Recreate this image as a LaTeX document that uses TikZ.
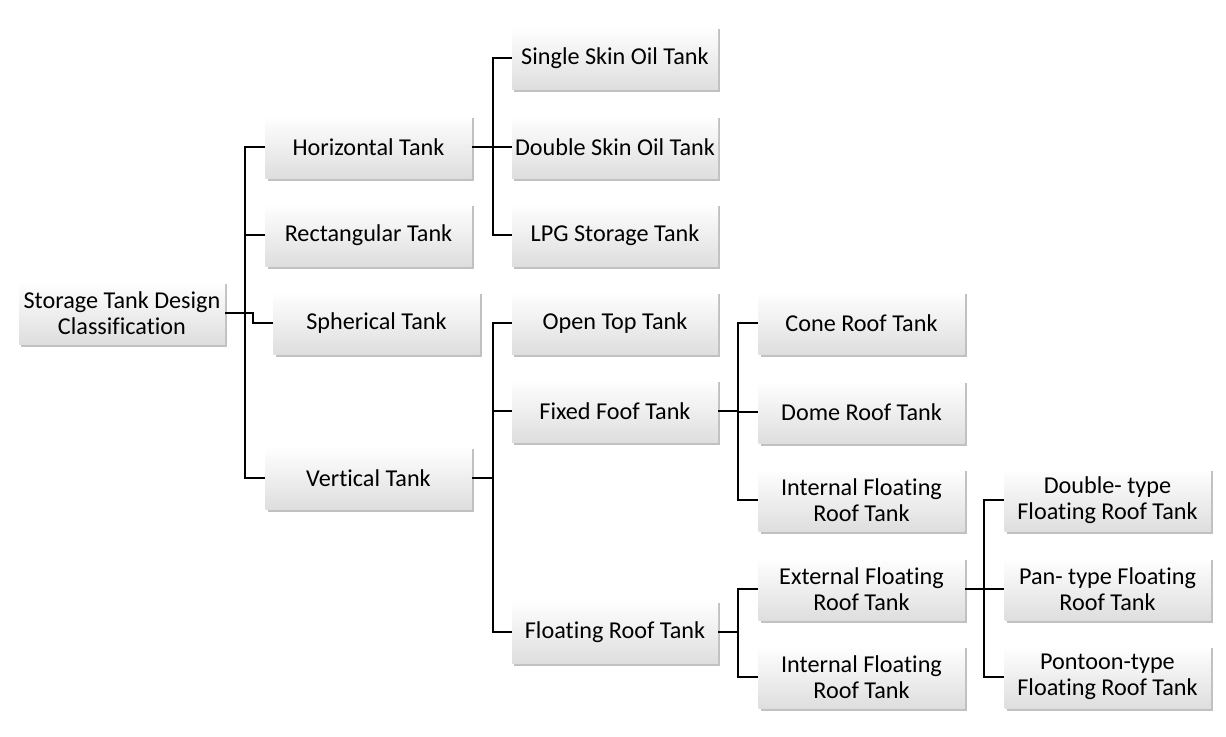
\documentclass[tikz,border=0pt]{standalone}
\usepackage{fontspec}
\setmainfont{Carlito}[Ligatures={NoCommon}]
\usepackage{tikz}
\usetikzlibrary{
	positioning,
	shadows,
	calc
}
\tikzset{
  % line
	cstline/.style        ={line width=1.2pt, line join=miter},
  % node
	cstnode/.style        ={rectangle, minimum width=103pt, minimum height=31.5pt, inner sep=0pt,
	                        align=center, top color=white, bottom color=black!13,
	                        font=\fontsize{12.1}{12.8}\selectfont,
	                        drop shadow={shadow xshift=1.2pt, shadow yshift=-1.2pt, opacity=.35, fill=black!70}}
}

\begin{document}
\begin{tikzpicture}[x=0.5pt,y=-0.5pt]
	\useasboundingbox (0,0) rectangle (1226,736);
	% root and first level
	\node[cstnode] (root) at (122,313) {Storage Tank Design\\Classification};
	\node[cstnode] (hor)  at (368.5,147) {Horizontal Tank};
	\node[cstnode] (rect) at (368.5,235) {Rectangular Tank};
	\node[cstnode] (sph)  at (376.5,323) {Spherical Tank};
	\node[cstnode] (vert) at (368.5,478) {Vertical Tank};
	% second level
	\node[cstnode] (sst) at (615,58)  {Single Skin Oil Tank};
	\node[cstnode] (dst) at (615,147) {Double Skin Oil Tank};
	\node[cstnode] (lpg) at (615,235) {LPG Storage Tank};
	\node[cstnode] (opt) at (615,323) {Open Top Tank};
	\node[cstnode] (fix) at (615,411) {Fixed Foof Tank};
	\node[cstnode] (flt) at (615,632) {Floating Roof Tank};
	% third level
	\node[cstnode] (cone) at (861.5,323) {Cone Roof Tank};
	\node[cstnode] (dome) at (861.5,412) {Dome Roof Tank};
	\node[cstnode] (ifra) at (861.5,500) {Internal Floating\\Roof Tank};
	\node[cstnode] (efr)  at (861.5,589) {External Floating\\Roof Tank};
	\node[cstnode] (ifrb) at (861.5,677) {Internal Floating\\Roof Tank};
	% fourth level
	\node[cstnode] (dbl) at (1107.5,500) {Double- type\\Floating Roof Tank};
	\node[cstnode] (pan) at (1107.5,589) {Pan- type Floating\\Roof Tank};
	\node[cstnode] (pon) at (1107.5,677) {Pontoon-type\\Floating Roof Tank};
	% buses
	\coordinate (busa) at (245,0);
	\coordinate (busb) at (253,0);
	\coordinate (busc) at (493,0);
	\coordinate (busd) at (738,0);
	\coordinate (buse) at (984,0);
	% connectors
	\begin{scope}[cstline]
		\foreach \c in {hor,rect,vert}
			\draw (root.east) -- (root.east -| busa) |- (\c.west);
		\draw (root.east) -- (root.east -| busb) |- (sph.west);
		\foreach \c in {sst,dst,lpg}
			\draw (hor.east) -- (hor.east -| busc) |- (\c.west);
		\foreach \c in {opt,fix,flt}
			\draw (vert.east) -- (vert.east -| busc) |- (\c.west);
		\foreach \c in {cone,dome,ifra}
			\draw (fix.east) -- (fix.east -| busd) |- (\c.west);
		\foreach \c in {efr,ifrb}
			\draw (flt.east) -- (flt.east -| busd) |- (\c.west);
		\foreach \c in {dbl,pan,pon}
			\draw (efr.east) -- (efr.east -| buse) |- (\c.west);
	\end{scope}
\end{tikzpicture}
\end{document}
